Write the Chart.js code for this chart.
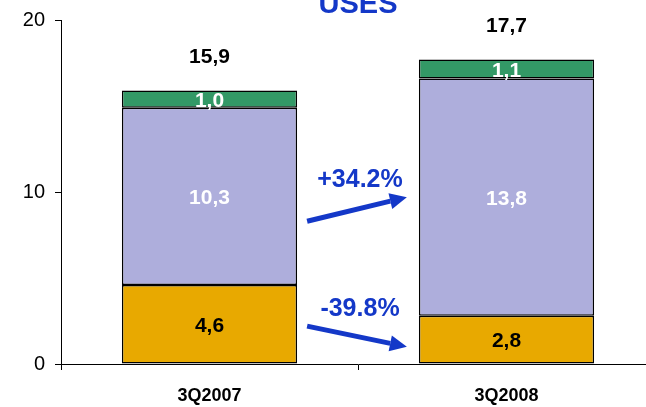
<!DOCTYPE html>
<html>
<head>
<meta charset="utf-8">
<script src="https://cdn.jsdelivr.net/npm/chart.js@4/dist/chart.umd.min.js"></script>
<style>
    html, body { margin: 0; padding: 0; background: #fff; overflow: hidden; }
    #wrap { position: relative; width: 655px; height: 407px; }
</style>
</head>
<body>
<div id="wrap"><canvas id="usesChart"></canvas></div>
<script>
    var quarters = ['3Q2007', '3Q2008'];
    var goldValues = [4.6, 2.8];
    var lavenderValues = [10.3, 13.8];
    var greenValues = [1.0, 1.1];
    var totalValues = [15.9, 17.7];
    var yTicks = [0, 10, 20];
    var chartTitle = 'USES';
    // arrows between the bars: label, start value, end value
    var arrowLabels = ['+34.2%', '-39.8%'];
    var arrowFrom = [8.3, 2.2];
    var arrowTo = [9.7, 1.0];
    var arrowLabelAt = [10.7, 3.2];

    function fmt(v) {
        return v.toFixed(1).replace('.', ',');
    }

    var labelPlugin = {
        id: 'usesLabels',
        afterDatasetsDraw: function (chart) {
            var ctx = chart.ctx;
            var area = chart.chartArea;
            var yScale = chart.scales.y;
            var textColors = ['#000000', '#ffffff', '#ffffff'];
            ctx.save();
            ctx.textAlign = 'center';
            ctx.textBaseline = 'middle';
            ctx.font = 'bold 21px "Liberation Sans", Arial, sans-serif';
            chart.data.datasets.forEach(function (ds, di) {
                chart.getDatasetMeta(di).data.forEach(function (bar, i) {
                    var mid = (bar.y + bar.base) / 2;
                    ctx.fillStyle = textColors[di];
                    ctx.fillText(fmt(ds.data[i]), bar.x, mid + 2);
                });
            });
            // totals
            var top = chart.getDatasetMeta(2).data;
            ctx.fillStyle = '#000';
            top.forEach(function (bar, i) {
                ctx.fillText(fmt(totalValues[i]), bar.x, yScale.getPixelForValue(totalValues[i]) - 33);
            });

            // title (cut off at top)
            ctx.fillStyle = '#1438c8';
            ctx.font = 'bold 29px "Liberation Sans", Arial, sans-serif';
            ctx.textBaseline = 'alphabetic';
            ctx.fillText(chartTitle, (area.left + area.right) / 2, 13);

            // arrows
            var b0 = chart.getDatasetMeta(0).data[0];
            var b1 = chart.getDatasetMeta(0).data[1];
            var x0 = b0.x + b0.width / 2 + 10;
            var x1 = b1.x - b1.width / 2 - 12;
            arrowLabels.forEach(function (lbl, k) {
                var ya = yScale.getPixelForValue(arrowFrom[k]);
                var yb = yScale.getPixelForValue(arrowTo[k]);
                var ang = Math.atan2(yb - ya, x1 - x0);
                var headLen = 17, headW = 8;
                var sx = x1 - headLen * Math.cos(ang);
                var sy = yb - headLen * Math.sin(ang);
                ctx.strokeStyle = '#1438c8';
                ctx.fillStyle = '#1438c8';
                ctx.lineWidth = 5;
                ctx.beginPath();
                ctx.moveTo(x0, ya);
                ctx.lineTo(sx, sy);
                ctx.stroke();
                ctx.beginPath();
                ctx.moveTo(x1, yb);
                ctx.lineTo(sx + headW * Math.sin(ang), sy - headW * Math.cos(ang));
                ctx.lineTo(sx - headW * Math.sin(ang), sy + headW * Math.cos(ang));
                ctx.closePath();
                ctx.fill();

                ctx.font = 'bold 25px "Liberation Sans", Arial, sans-serif';
                ctx.textBaseline = 'middle';
                ctx.fillText(lbl, (x0 + x1) / 2 + 3, yScale.getPixelForValue(arrowLabelAt[k]));
            });
            ctx.restore();
        }
    };

    var ctx = document.getElementById('usesChart').getContext('2d');
    new Chart(ctx, {
        type: 'bar',
        data: {
            labels: quarters,
            datasets: [
                { label: 'gold', data: goldValues, backgroundColor: '#e8a900' },
                { label: 'lavender', data: lavenderValues, backgroundColor: '#aeaedc' },
                { label: 'green', data: greenValues, backgroundColor: '#339966' }
            ].map(function (d) {
                d.borderColor = '#000';
                d.borderWidth = 1.5;
                d.borderSkipped = false;
                d.barPercentage = 0.59;
                d.categoryPercentage = 1.0;
                return d;
            })
        },
        options: {
            responsive: true,
            maintainAspectRatio: false,
            animation: false,
            layout: { padding: { top: 20, right: 0, left: 0, bottom: 0 } },
            plugins: {
                legend: { display: false },
                tooltip: { enabled: false }
            },
            scales: {
                x: {
                    stacked: true,
                    offset: true,
                    border: { display: true, color: '#000', width: 1 },
                    grid: { offset: true, drawOnChartArea: false, drawTicks: true, tickLength: 6, color: '#000' },
                    ticks: {
                        color: '#000',
                        padding: 15,
                        font: { family: '"Liberation Sans", Arial, sans-serif', size: 18, weight: 'bold' }
                    },
                    afterFit: function (scale) { scale.height = 43; }
                },
                y: {
                    stacked: true,
                    min: 0,
                    max: 20,
                    afterBuildTicks: function (scale) {
                        scale.ticks = yTicks.map(function (v) { return { value: v }; });
                    },
                    border: { display: true, color: '#000', width: 1 },
                    grid: { drawOnChartArea: false, drawTicks: true, tickLength: 6, color: '#000' },
                    ticks: {
                        color: '#000',
                        padding: 10,
                        font: { family: '"Liberation Sans", Arial, sans-serif', size: 20, lineHeight: 1 }
                    },
                    afterFit: function (scale) { scale.width = 61; }
                }
            }
        },
        plugins: [labelPlugin]
    });
</script>
</body>
</html>
